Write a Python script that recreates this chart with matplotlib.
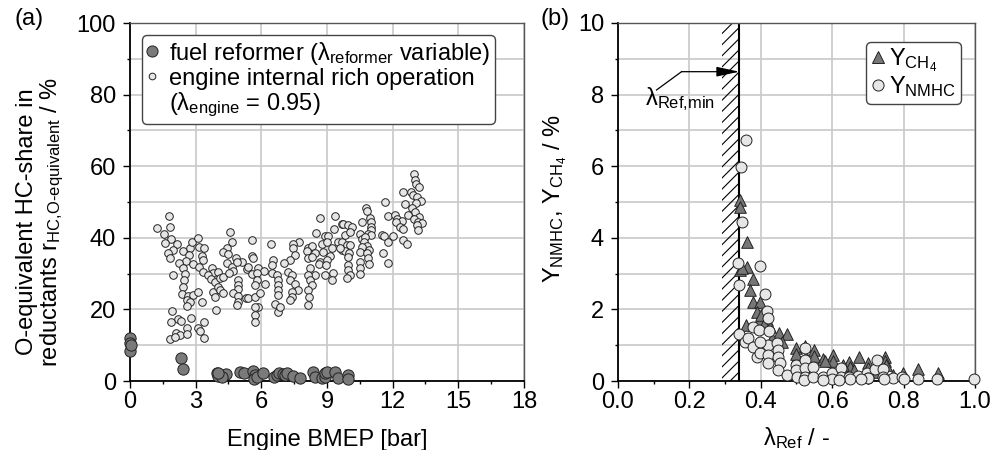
import matplotlib
matplotlib.use('Agg')
import matplotlib.pyplot as plt
from matplotlib.ticker import MultipleLocator, FormatStrFormatter
from matplotlib.lines import Line2D

plt.rcParams['font.family'] = ['Liberation Sans', 'DejaVu Sans']
plt.rcParams['mathtext.fontset'] = 'custom'
plt.rcParams['mathtext.rm'] = 'Liberation Sans'
plt.rcParams['mathtext.it'] = 'Liberation Sans:italic'
plt.rcParams['mathtext.bf'] = 'Liberation Sans:bold'
plt.rcParams['font.size'] = 17
plt.rcParams['hatch.linewidth'] = 0.8

# ---------------- data (a) ----------------
bmep_reformer = [0.0, 0.0, 0.0, 0.05, 2.31, 2.41, 3.96, 4.04, 4.39, 4.2, 5.02, 5.21, 5.63, 5.71, 5.66,
                 5.8, 6.06, 6.6, 6.70, 6.82, 7.0, 7.08, 7.16, 7.46, 7.77, 8.37, 8.45, 8.76, 8.9, 8.91,
                 9.0, 9.37, 9.52, 9.97, 9.94, 4.0]
hc_reformer = [11.9, 10.5, 8.4, 10.0, 6.5, 3.3, 2.1, 1.4, 2.0, 1.0, 2.6, 2.1, 2.9, 1.7, 0.5,
               1.0, 2.3, 1.2, 1.7, 2.3, 2.0, 1.7, 2.3, 1.4, 0.75, 2.6, 1.2, 0.75, 1.0, 2.1,
               2.5, 2.6, 0.75, 1.7, 0.5, 2.2]

bmep_engine = [
    1.78, 1.25, 1.83, 1.57, 1.86, 1.60, 2.13, 1.95, 1.75, 1.83, 2.44, 2.74, 2.82, 3.12, 3.17, 3.38,
    2.71, 2.56, 2.25, 2.89, 3.27, 3.35, 3.17, 2.44, 1.95, 2.51, 3.35, 3.73, 3.81, 3.58, 4.03, 3.70,
    3.88, 4.11, 4.23, 2.48, 2.44, 2.36, 2.66, 2.89, 3.09, 2.59, 2.74, 2.59, 3.27, 3.81, 4.03, 4.11,
    4.26, 3.88, 3.93, 1.90, 2.21, 1.86, 2.31, 2.79, 3.38, 2.59, 3.12, 3.20, 2.10, 2.28, 2.62, 1.83,
    2.06, 3.38, 4.57, 4.64, 4.42, 4.23, 4.49, 4.84, 5.10, 4.42, 4.64, 4.90, 4.72, 4.53, 4.95, 4.95,
    4.95, 4.72, 4.95, 4.95, 4.90, 5.28, 5.36,
    8.68, 9.37, 9.67, 8.50, 8.91, 9.03, 9.33, 5.59, 6.43, 7.73, 7.46, 7.43, 8.15, 8.30, 8.76, 8.99,
    9.21, 9.49, 9.70, 8.07, 8.45, 8.83, 9.14, 9.67, 7.54, 7.31, 7.05, 8.15, 8.30, 8.68, 8.99, 5.59,
    5.63, 6.55, 6.47, 5.38, 5.86, 6.12, 5.56, 5.79, 6.47, 6.70, 7.23, 7.39, 8.22, 8.45, 8.91, 9.29,
    8.63, 8.94, 9.24, 5.79, 5.71, 6.17, 6.77, 6.77, 6.77, 6.77, 7.31, 7.54, 7.69, 7.39, 7.39, 7.31,
    8.15, 8.22, 8.30, 8.15, 8.18, 8.15, 5.38, 5.71, 5.94, 5.86, 5.71, 5.71, 6.62, 6.77, 6.85, 5.71,
    12.97, 13.02, 13.07, 13.22, 12.46, 12.82, 12.94, 13.13, 13.29, 13.07, 12.56, 12.87, 13.02, 12.71,
    13.22, 12.97, 13.17, 13.32, 13.13, 13.17, 11.65, 10.78, 10.81, 10.96, 10.99, 10.61, 10.99, 11.01,
    10.89, 10.99, 11.80, 12.11, 12.21, 12.41, 12.15, 12.33, 12.49, 11.50, 11.60, 12.00, 11.80, 12.49,
    12.64, 11.57, 11.80, 10.53, 10.58, 10.73, 10.69, 10.81, 10.58, 10.93, 10.53, 10.81, 10.89, 10.53,
    10.93, 10.50, 10.50, 9.75, 9.97, 10.13, 9.82, 10.05, 9.90, 10.05, 9.82, 10.02, 9.97, 9.97, 9.97,
    10.05, 9.90, 9.59]
hc_engine = [
    46.2, 42.6, 43.1, 41.2, 39.7, 38.6, 38.2, 36.6, 35.7, 34.4, 36.3, 37.2, 38.7, 39.9, 37.5, 37.1,
    35.2, 33.5, 33.0, 32.6, 35.0, 33.8, 31.9, 31.5, 29.6, 29.8, 30.5, 31.6, 30.1, 29.6, 30.5, 28.5,
    27.7, 28.7, 29.1, 28.2, 26.3, 24.2, 23.7, 24.0, 24.9, 22.6, 22.2, 21.0, 22.2, 24.9, 26.3, 25.4,
    24.7, 23.5, 19.8, 19.6, 17.2, 16.6, 16.8, 17.5, 16.6, 14.9, 14.9, 14.0, 13.5, 12.8, 13.0, 11.7,
    12.2, 11.9, 41.7, 38.7, 37.1, 35.9, 35.4, 34.4, 33.3, 32.9, 31.9, 33.3, 30.7, 30.1, 28.2, 26.8,
    25.7, 24.5, 23.8, 22.2, 21.2, 23.3, 31.3,
    45.4, 46.2, 43.8, 41.4, 40.6, 40.6, 42.4, 39.4, 38.4, 38.7, 38.2, 37.2, 37.1, 37.7, 38.3, 38.9,
    37.2, 38.7, 38.9, 36.3, 35.7, 36.1, 35.0, 36.6, 35.2, 33.8, 32.9, 34.3, 34.7, 33.3, 33.8, 35.0,
    34.3, 33.8, 32.4, 31.9, 31.5, 30.7, 29.8, 30.1, 30.1, 29.6, 30.5, 29.6, 31.5, 29.6, 29.6, 30.1,
    32.6, 32.4, 28.2, 28.2, 26.8, 27.1, 28.2, 26.8, 25.4, 24.0, 28.2, 27.0, 25.4, 24.9, 23.5, 22.6,
    29.6, 28.2, 26.8, 25.4, 23.5, 21.2, 23.1, 23.5, 24.5, 20.8, 18.4, 16.6, 21.4, 19.4, 20.8, 20.8,
    57.7, 56.1, 54.9, 54.1, 52.9, 52.7, 52.0, 51.3, 50.3, 49.6, 49.4, 48.2, 47.3, 46.4,
    45.9, 45.3, 44.5, 44.0, 43.6, 42.1, 50.1, 48.4, 47.5, 45.6, 44.3, 44.3, 43.1, 42.2,
    41.0, 40.8, 46.1, 46.4, 45.3, 44.7, 44.5, 43.1, 42.5, 40.8, 40.6, 40.6, 38.7, 39.4,
    38.2, 35.7, 33.0, 41.0, 39.7, 40.3, 38.9, 37.7, 37.5, 36.6, 36.1, 35.7, 34.3, 33.3,
    32.6, 31.6, 29.8, 43.8, 43.6, 43.1, 40.8, 41.7, 38.0, 38.0, 36.3, 35.7, 34.7, 32.4, 31.0,
    29.6, 28.7, 37.1]

# ---------------- data (b) ----------------
lam_ch4 = [0.342, 0.342, 0.360, 0.360, 0.342, 0.346, 0.379, 0.370, 0.377, 0.398, 0.390, 0.398, 0.359,
           0.416, 0.426, 0.452, 0.474, 0.499, 0.501, 0.524, 0.527, 0.549, 0.573, 0.601, 0.601, 0.648,
           0.650, 0.676, 0.701, 0.748, 0.748, 0.771, 0.797, 0.841, 0.895, 0.524, 0.620, 0.400, 0.410,
           0.430, 0.460, 0.500, 0.550, 0.580, 0.630, 0.660, 0.700, 0.720, 0.750]
y_ch4 = [5.06, 4.87, 3.89, 3.19, 3.10, 3.15, 2.84, 2.54, 2.22, 2.22, 1.94, 1.70, 1.56,
         1.70, 1.52, 1.35, 1.31, 0.91, 0.68, 0.98, 0.68, 0.87, 0.61, 0.73, 0.57, 0.54,
         0.38, 0.66, 0.49, 0.66, 0.57, 0.17, 0.21, 0.33, 0.21, 0.30, 0.30, 1.85, 1.60,
         1.20, 1.10, 0.75, 0.70, 0.55, 0.45, 0.30, 0.35, 0.25, 0.45]

lam_nmhc = [0.358, 0.344, 0.346, 0.337, 0.398, 0.339, 0.412, 0.416, 0.421, 0.340, 0.377, 0.396, 0.424,
            0.356, 0.365, 0.379, 0.388, 0.398, 0.421, 0.421, 0.421, 0.446, 0.449, 0.449, 0.454, 0.449,
            0.473, 0.499, 0.499, 0.501, 0.524, 0.524, 0.524, 0.524, 0.521, 0.547, 0.547, 0.573, 0.599,
            0.599, 0.624, 0.624, 0.648, 0.673, 0.697, 0.699, 0.720, 0.725, 0.743, 0.743, 0.769, 0.795,
            0.841, 0.893, 0.997, 0.398, 0.575, 0.650, 0.700, 0.745, 0.800, 0.620, 0.680]
y_nmhc = [6.73, 5.99, 4.45, 3.30, 3.21, 2.68, 2.43, 1.96, 1.75, 1.31, 1.50, 1.42, 1.40,
          1.10, 1.19, 0.96, 0.66, 0.77, 1.01, 0.73, 0.49, 1.07, 0.87, 0.66, 0.51, 0.31,
          0.17, 0.45, 0.31, 0.12, 0.93, 0.59, 0.35, 0.12, 0.03, 0.40, 0.12, 0.10, 0.21,
          0.05, 0.35, 0.10, 0.12, 0.14, 0.21, 0.07, 0.33, 0.59, 0.33, 0.12, 0.07, 0.10,
          0.05, 0.05, 0.05, 1.10, 0.03, 0.05, 0.08, 0.05, 0.05, 0.04, 0.06]

lam_ref_min = 0.34
hatch_left = 0.29

GRID = '#c8c8c8'
DARK = '#7a7a7a'
LIGHT = '#e6e6e6'

fig = plt.figure(figsize=(10.03, 4.5), dpi=100)
ax1 = fig.add_axes([130/1003, 69/450, 394/1003, 358/450])
ax2 = fig.add_axes([618/1003, 69/450, 357/1003, 358/450])

for ax in (ax1, ax2):
    ax.set_axisbelow(True)
    for s in ('top', 'right'):
        ax.spines[s].set_color('#555555')
        ax.spines[s].set_linewidth(1.0)
    for s in ('left', 'bottom'):
        ax.spines[s].set_color('black')
        ax.spines[s].set_linewidth(1.3)
    ax.tick_params(which='major', direction='out', length=5, width=1.0, labelsize=17)
    ax.tick_params(which='minor', direction='out', length=2.5, width=1.0)
    ax.tick_params(axis='x', which='major', pad=2)
    ax.tick_params(axis='y', which='major', pad=5)

# ---- panel (a)
ax1.set_xlim(0, 18)
ax1.set_ylim(0, 100)
ax1.xaxis.set_major_locator(MultipleLocator(3))
ax1.xaxis.set_minor_locator(MultipleLocator(1.5))
ax1.yaxis.set_major_locator(MultipleLocator(20))
ax1.yaxis.set_minor_locator(MultipleLocator(10))
ax1.grid(True, which='major', axis='x', color=GRID, lw=1.2)
ax1.grid(True, which='both', axis='y', color=GRID, lw=1.2)

ax1.scatter(bmep_engine, hc_engine, s=30, facecolor=LIGHT, edgecolor='#222222', linewidth=0.7,
            zorder=3, clip_on=False)
ax1.scatter(bmep_reformer, hc_reformer, s=66, facecolor=DARK, edgecolor='#222222', linewidth=0.7,
            zorder=4, clip_on=False)

h1 = [Line2D([], [], ls='', marker='o', mfc=DARK, mec='#222222', ms=8, mew=0.7),
      Line2D([], [], ls='', marker='o', mfc=LIGHT, mec='#222222', ms=4.8, mew=0.7),
      Line2D([], [], ls='', marker='')]
l1 = ['fuel reformer (λ$_{\\mathrm{reformer}}$ variable)',
      'engine internal rich operation',
      '(λ$_{\\mathrm{engine}}$ = 0.95)']
leg1 = ax1.legend(h1, l1, loc='upper left', bbox_to_anchor=(0.03, 0.967), borderaxespad=0,
                  fontsize=17, handlelength=0.5, handletextpad=0.45, borderpad=0.2,
                  labelspacing=0.05, fancybox=True, framealpha=1, edgecolor='#444444')
leg1.get_frame().set_linewidth(1.0)

fig.text(327/1003, 1 - 446/450, 'Engine BMEP [bar]', ha='center', va='baseline', fontsize=17)
fig.text(41/1003, 1 - 222/450,
         'O-equivalent HC-share in\nreductants r$_{\\mathrm{HC{,}O\\text{-}equivalent}}$ / %',
         rotation=90, ha='center', va='center', rotation_mode='anchor', fontsize=17,
         linespacing=1.05)
fig.text(15/1003, 1 - 8/450, '(a)', ha='left', va='top', fontsize=17)

# ---- panel (b)
ax2.set_xlim(0, 1)
ax2.set_ylim(0, 10)
ax2.xaxis.set_major_locator(MultipleLocator(0.2))
ax2.xaxis.set_minor_locator(MultipleLocator(0.1))
ax2.xaxis.set_major_formatter(FormatStrFormatter('%.1f'))
ax2.yaxis.set_major_locator(MultipleLocator(2))
ax2.yaxis.set_minor_locator(MultipleLocator(1))
ax2.grid(True, which='major', axis='x', color=GRID, lw=1.2)
ax2.grid(True, which='both', axis='y', color=GRID, lw=1.2)

ax2.axvspan(hatch_left, lam_ref_min, facecolor='none', edgecolor='black', hatch='///',
            linewidth=0, zorder=2)
ax2.axvline(lam_ref_min, color='black', lw=1.5, zorder=2.5)

ax2.scatter(lam_ch4, y_ch4, s=70, marker='^', facecolor='#777777', edgecolor='#222222',
            linewidth=0.7, zorder=3, clip_on=False)
ax2.scatter(lam_nmhc, y_nmhc, s=62, marker='o', facecolor=LIGHT, edgecolor='#222222',
            linewidth=0.7, zorder=4, clip_on=False)

# annotation lambda_Ref,min
ax2.plot([0.108, 0.178], [8.13, 8.64], color='black', lw=0.9, zorder=5)
ax2.annotate('', xy=(lam_ref_min, 8.64), xytext=(0.178, 8.64),
             arrowprops=dict(arrowstyle='-|>,head_length=1.4,head_width=0.3', color='black',
                             lw=0.9, shrinkA=0, shrinkB=0, mutation_scale=10), zorder=5)
ax2.text(0.075, 7.7, 'λ$_{\\mathrm{Ref{,}min}}$', ha='left', va='baseline', fontsize=17, zorder=5)

h2 = [Line2D([], [], ls='', marker='^', mfc='#777777', mec='#222222', ms=8, mew=0.7),
      Line2D([], [], ls='', marker='o', mfc=LIGHT, mec='#222222', ms=8, mew=0.7)]
l2 = ['Y$_{\\mathrm{CH}_4}$', 'Y$_{\\mathrm{NMHC}}$']
leg2 = ax2.legend(h2, l2, loc='upper right', bbox_to_anchor=(0.961, 0.947), borderaxespad=0,
                  fontsize=17, handlelength=0.6, handletextpad=0.2, borderpad=0.2,
                  labelspacing=0.0, fancybox=True, framealpha=1, edgecolor='#444444')
leg2.get_frame().set_linewidth(1.0)

fig.text(796/1003, 1 - 445/450, 'λ$_{\\mathrm{Ref}}$ / -', ha='center', va='baseline', fontsize=17)
fig.text(555/1003, 1 - 199/450, 'Y$_{\\mathrm{NMHC}}$, Y$_{\\mathrm{CH}_4}$ / %',
         rotation=90, ha='center', va='center', rotation_mode='anchor', fontsize=17)
fig.text(540/1003, 1 - 8/450, '(b)', ha='left', va='top', fontsize=17)

fig.savefig('out.png', dpi=100)
